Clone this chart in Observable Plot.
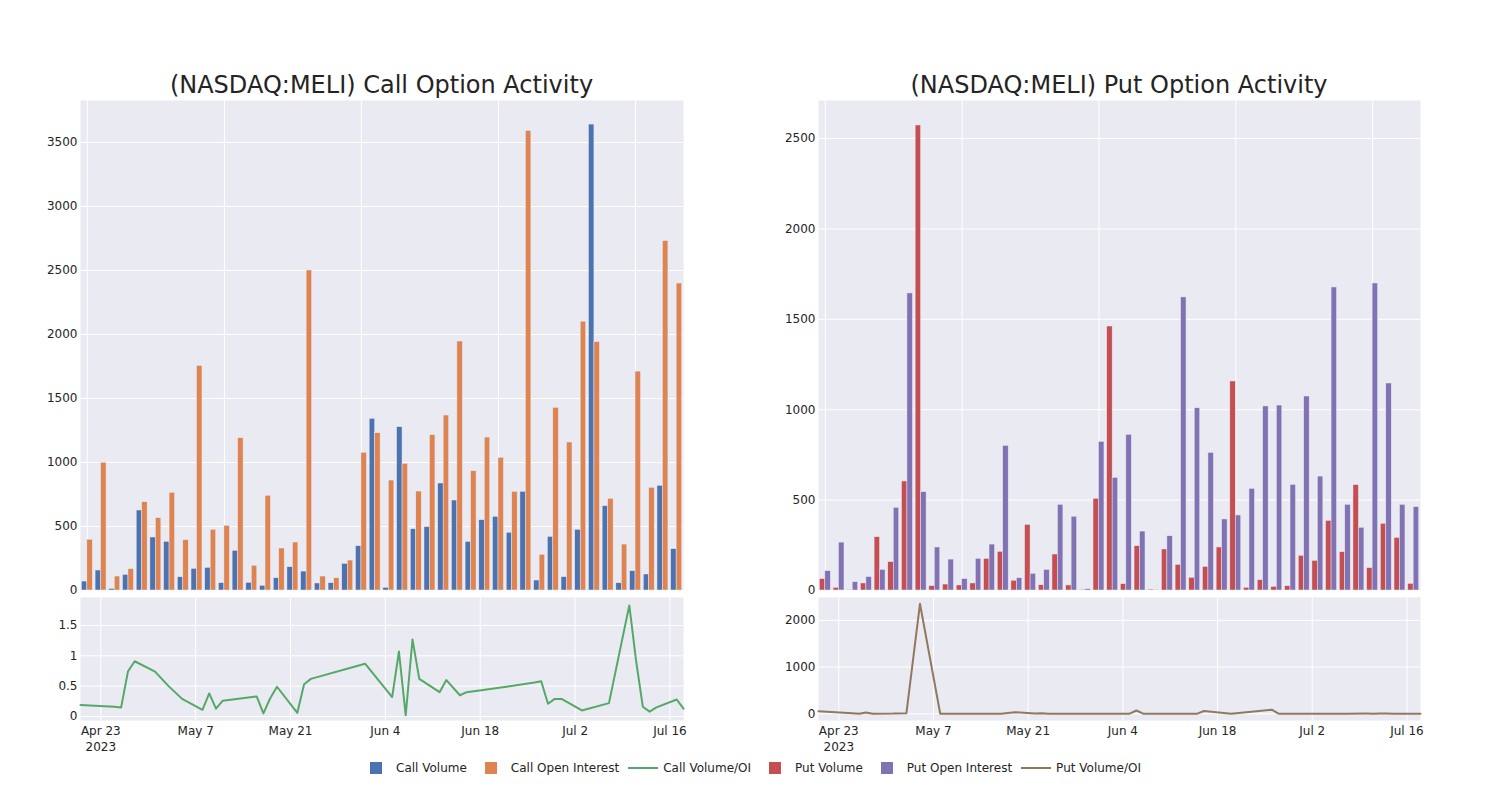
<!DOCTYPE html>
<html><head><meta charset="utf-8">
<script src="https://cdn.jsdelivr.net/npm/d3@7"></script>
<script src="https://cdn.jsdelivr.net/npm/@observablehq/plot@0.6"></script>
<style>
body{margin:0;background:#fff;}
#root{position:relative;width:1500px;height:800px;font-family:"DejaVu Sans",sans-serif;color:rgb(36,36,36);overflow:hidden;background:#fff}
.title{position:absolute;top:73px;font-size:24px;line-height:24px;white-space:nowrap;transform:translateX(-50%)}
.plot{position:absolute}
#legend{position:absolute;top:760px;left:356px;display:flex;justify-content:flex-start;font-size:12px;line-height:16px;white-space:nowrap}
.item{display:flex;align-items:center;margin-right:4px;height:16px}
.sym{width:40px;height:16px;position:relative;flex:none}
</style></head>
<body><div id="root"></div>
<script>
// ---------- data ----------
const dates = ["2023-04-20","2023-04-25","2023-04-26","2023-04-27","2023-04-28","2023-05-01","2023-05-03","2023-05-05",
  "2023-05-08","2023-05-09","2023-05-10","2023-05-11","2023-05-16","2023-05-17","2023-05-18","2023-05-19",
  "2023-05-22","2023-05-23","2023-05-24","2023-06-01","2023-06-05","2023-06-06","2023-06-07","2023-06-08",
  "2023-06-09","2023-06-12","2023-06-13","2023-06-15","2023-06-16","2023-06-20","2023-06-26","2023-06-27",
  "2023-06-28","2023-06-29","2023-06-30","2023-07-03","2023-07-07","2023-07-10","2023-07-11","2023-07-12",
  "2023-07-13","2023-07-14","2023-07-17","2023-07-18"];
const callVolume = [70,156,12,122,625,414,380,104,169,177,57,310,60,37,96,182,148,55,57,208,346,1341,21,1276,
  479,495,836,703,380,549,576,451,771,78,419,104,474,3640,659,57,151,125,818,323];
const callOpenInterest = [396,998,109,167,690,565,763,393,1755,474,505,1190,193,740,328,375,2500,109,96,234,1076,1229,859,990,
  773,1214,1367,1945,932,1195,1037,771,3590,279,1427,1156,2100,1940,716,359,1710,802,2730,2398];
const callVolumeOI = [0.19,0.16,0.15,0.74,0.91,0.74,0.50,0.29,0.11,0.38,0.13,0.26,0.33,0.05,0.30,0.49,0.06,0.53,0.62,0.87,
  0.32,1.07,0.02,1.27,0.62,0.40,0.60,0.35,0.40,0.46,0.56,0.58,0.21,0.29,0.29,0.10,0.22,1.83,0.92,0.16,0.08,0.15,0.28,0.13];
const putVolume = [63,15,2,39,295,157,603,2572,24,33,28,39,175,214,54,363,29,199,28,4,507,1460,35,245,
  5,227,142,70,131,238,1156,15,57,20,24,192,164,385,212,583,124,369,291,37];
const putOpenInterest = [107,265,46,74,114,457,1643,544,238,171,63,175,254,800,68,92,114,474,408,7,822,623,861,326,
  2,300,1621,1008,761,393,415,562,1018,1023,584,1073,630,1676,474,347,1698,1145,474,461];
const putVolumeOI = [57,10,2,29,3,5,14,2356,2,2,2,2,2,2,18,36,5,12,3,2,3,71,3,2,2,2,2,3,60,2,88,2,2,2,2,2,3,5,4,8,6,3,4,3];

const callBarTicks = [0,500,1000,1500,2000,2500,3000,3500];
const putBarTicks = [0,500,1000,1500,2000,2500];
const callLineTicks = [0,0.5,1,1.5];
const putLineTicks = [0,1000,2000];
const dateTicks = ["2023-04-23","2023-05-07","2023-05-21","2023-06-04","2023-06-18","2023-07-02","2023-07-16"];
const dateTickLabels = ["Apr 23\n2023","May 7","May 21","Jun 4","Jun 18","Jul 2","Jul 16"];
const gridCategories = [dates[0], dates[10], dates[20], dates[30], dates[40]];
const domainStart = "2023-04-20", domainEnd = "2023-07-18";

const colors = {callVol:"#4C72B0", callOI:"#DD8452", callRatio:"#55A868", putVol:"#C44E52", putOI:"#8172B3", putRatio:"#937860"};
const legendItems = [
  {label:"Call Volume", kind:"bar", color:colors.callVol},
  {label:"Call Open Interest", kind:"bar", color:colors.callOI},
  {label:"Call Volume/OI", kind:"line", color:colors.callRatio},
  {label:"Put Volume", kind:"bar", color:colors.putVol},
  {label:"Put Open Interest", kind:"bar", color:colors.putOI},
  {label:"Put Volume/OI", kind:"line", color:colors.putRatio}
];

// ---------- drawing ----------
const utc = s => new Date(s + "T00:00:00Z");
const root = document.getElementById("root");
const BG = "#EAEAF2";
const labelByTime = new Map(dateTicks.map((d, i) => [+utc(d), dateTickLabels[i]]));

function panel(cfg) {
  const rows = dates.map((d, i) => ({key: d, date: utc(d), vol: cfg.vol[i], oi: cfg.oi[i], ratio: cfg.ratio[i]}));
  const pw = cfg.right - cfg.left;
  const bw = pw / dates.length;
  const styleBase = {background:"transparent", fontFamily:"DejaVu Sans", fontSize:"12px", color:"rgb(36,36,36)", overflow:"visible"};

  const bars = Plot.plot({
    width: pw + 100, height: 500, marginLeft: 80, marginRight: 20, marginTop: 10, marginBottom: 0,
    style: styleBase,
    x: {type:"band", domain: dates, padding: 0, round: false, axis: null},
    y: {domain: cfg.barDomain, label: null},
    marks: [
      Plot.frame({fill: BG, stroke: "none"}),
      Plot.gridY(cfg.barTicks, {stroke:"white", strokeOpacity:1, strokeWidth:1}),
      Plot.gridX(gridCategories, {stroke:"white", strokeOpacity:1, strokeWidth:1}),
      Plot.axisY(cfg.barTicks, {tickSize:0, tickPadding:3, tickFormat: d => String(d), fontSize:12, label: null}),
      Plot.barY(rows, {x:"key", y:"vol", fill: cfg.c1, stroke: BG, strokeWidth: 0.5, insetLeft: bw*0.1, insetRight: bw*0.5}),
      Plot.barY(rows, {x:"key", y:"oi", fill: cfg.c2, stroke: BG, strokeWidth: 0.5, insetLeft: bw*0.5, insetRight: bw*0.1})
    ]
  });
  bars.classList.add("plot");
  bars.style.left = (cfg.left - 80) + "px";
  bars.style.top = "90px";
  root.appendChild(bars);

  const line = Plot.plot({
    width: pw + 100, height: 180, marginLeft: 80, marginRight: 20, marginTop: 7, marginBottom: 50,
    style: styleBase,
    x: {type:"utc", domain: [utc(domainStart), utc(domainEnd)], label: null},
    y: {domain: cfg.lineDomain, label: null},
    marks: [
      Plot.frame({fill: BG, stroke: "none"}),
      Plot.gridY(cfg.lineTicks, {stroke:"white", strokeOpacity:1, strokeWidth:1}),
      Plot.gridX(dateTicks.map(utc), {stroke:"white", strokeOpacity:1, strokeWidth:1}),
      Plot.axisY(cfg.lineTicks, {tickSize:0, tickPadding:3, tickFormat: d => String(d), fontSize:12, label: null}),
      Plot.axisX(dateTicks.map(utc), {tickSize:0, tickPadding:3, tickFormat: d => labelByTime.get(+d), fontSize:12, lineHeight:1.33, label: null}),
      Plot.line(rows, {x:"date", y:"ratio", stroke: cfg.c3, strokeWidth: 2})
    ]
  });
  line.classList.add("plot");
  line.style.left = (cfg.left - 80) + "px";
  line.style.top = "590px";
  root.appendChild(line);

  const t = document.createElement("div");
  t.className = "title";
  t.textContent = cfg.title;
  t.style.left = ((cfg.left + cfg.right) / 2) + "px";
  root.appendChild(t);
}

panel({title:"(NASDAQ:MELI) Call Option Activity", left:80, right:683, vol:callVolume, oi:callOpenInterest, ratio:callVolumeOI,
  c1:colors.callVol, c2:colors.callOI, c3:colors.callRatio, barDomain:[0,3828], barTicks:callBarTicks,
  lineDomain:[-0.066,1.96], lineTicks:callLineTicks});
panel({title:"(NASDAQ:MELI) Put Option Activity", left:818, right:1420, vol:putVolume, oi:putOpenInterest, ratio:putVolumeOI,
  c1:colors.putVol, c2:colors.putOI, c3:colors.putRatio, barDomain:[0,2710], barTicks:putBarTicks,
  lineDomain:[-143,2490], lineTicks:putLineTicks});

// legend
const leg = document.createElement("div");
leg.id = "legend";
for (const it of legendItems) {
  const item = document.createElement("div"); item.className = "item";
  const sym = document.createElement("div"); sym.className = "sym";
  const mk = document.createElement("div");
  mk.style.position = "absolute"; mk.style.background = it.color;
  if (it.kind === "bar") { mk.style.left = "14px"; mk.style.top = "2px"; mk.style.width = "12px"; mk.style.height = "12px"; }
  else { mk.style.left = "5px"; mk.style.top = "7px"; mk.style.width = "30px"; mk.style.height = "2px"; }
  sym.appendChild(mk);
  const lab = document.createElement("span"); lab.textContent = it.label;
  item.appendChild(sym); item.appendChild(lab);
  leg.appendChild(item);
}
root.appendChild(leg);
</script>
</body></html>
